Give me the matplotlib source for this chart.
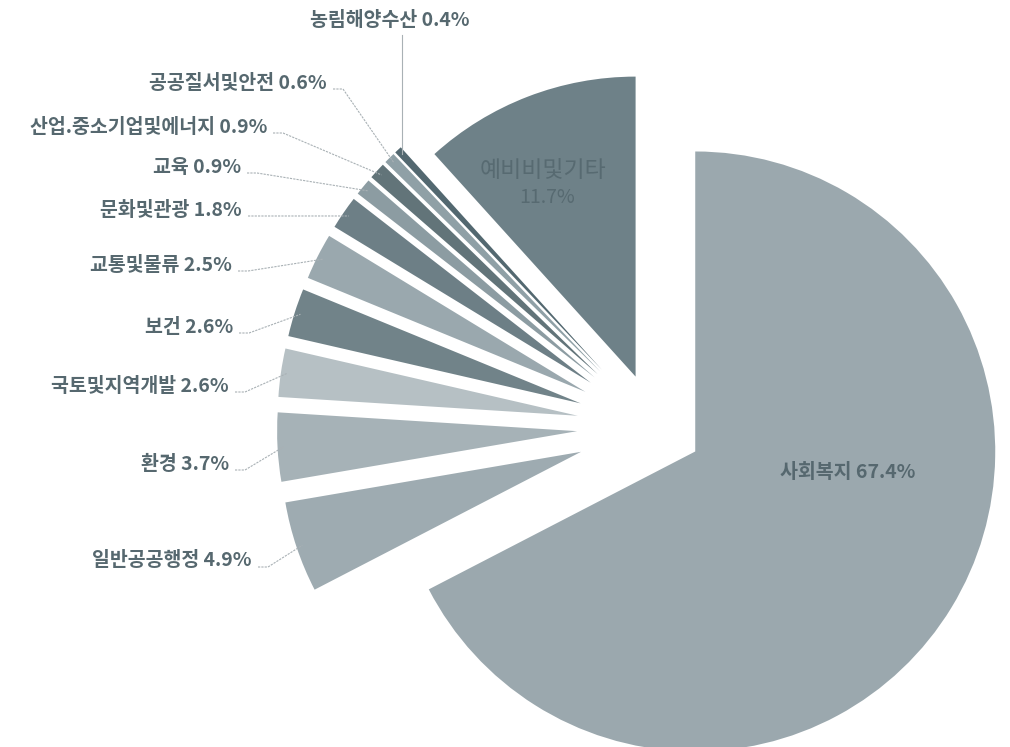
import numpy as np
import matplotlib
matplotlib.use("Agg")
import matplotlib.pyplot as plt

plt.rcParams['font.family'] = ['Noto Sans CJK KR', 'DejaVu Sans']

# === Data ===
categories = ["사회복지", "일반공공행정", "환경", "국토및지역개발", "보건", "교통및물류",
              "문화및관광", "교육", "산업.중소기업및에너지", "공공질서및안전", "농림해양수산",
              "예비비및기타"]
shares = [67.4, 4.9, 3.7, 2.6, 2.6, 2.5, 1.8, 0.9, 0.9, 0.6, 0.4, 11.7]

# === Style ===
colors = ["#9ba8ae", "#9eabb1", "#a6b2b7", "#b6c0c4", "#718389", "#9aa8ae",
          "#6d7f86", "#8c9ca2", "#627479", "#8fa0a6", "#536870", "#6e8188"]
explode = [0.157, 0.26, 0.26, 0.26, 0.26, 0.26, 0.26, 0.26, 0.26, 0.26, 0.26, 0.18]
text_color = "#56686f"
line_color = "#a9b1b5"

# pixel layout: pie centre and radius in the 1010x747 frame
W, H = 1010, 747
cx_px, cy_px, r_px = 655, 427, 300


def px2data(x, y):
    return (x - cx_px) / r_px, (cy_px - y) / r_px


# outside label anchors (right end x, centre y) in pixels
label_pos = {
    "일반공공행정": (252, 561),
    "환경": (229, 464),
    "국토및지역개발": (229, 386),
    "보건": (233, 327),
    "교통및물류": (232, 265),
    "문화및관광": (242, 210),
    "교육": (241, 167),
    "산업.중소기업및에너지": (267, 127),
    "공공질서및안전": (327, 83),
}

fig = plt.figure(figsize=(W / 100, H / 100), dpi=100)
ax = fig.add_axes([0, 0, 1, 1])

wedges, _ = ax.pie(shares, explode=explode, colors=colors, startangle=90,
                   counterclock=False, radius=1,
                   wedgeprops=dict(linewidth=0))

ax.set_xlim(-cx_px / r_px, (W - cx_px) / r_px)
ax.set_ylim(-(H - cy_px) / r_px, cy_px / r_px)
ax.set_aspect('equal')
ax.axis('off')

# outer point of each wedge along its bisector
tips = {}
for name, w in zip(categories, wedges):
    mid = np.deg2rad((w.theta1 + w.theta2) / 2)
    cx, cy = w.center
    tips[name] = (cx + 0.98 * np.cos(mid), cy + 0.98 * np.sin(mid))

# === Outside labels with leaders ===
for name, val in zip(categories, shares):
    if name not in label_pos:
        continue
    x, y = label_pos[name]
    tx, ty = px2data(x, y)
    ax.text(tx, ty, f"{name} {val}%", ha='right', va='center', fontsize=14,
            fontweight='bold', color=text_color)
    x0, y0 = px2data(x + 6, y + 6)
    x1, y1 = px2data(x + 16, y + 6)
    ex, ey = tips[name]
    ax.plot([x0, x1, ex], [y0, y1, ey], color=line_color, lw=0.8,
            linestyle=(0, (2, 1)))

# top label with vertical leader
name = "농림해양수산"
tx, ty = px2data(390, 20)
ax.text(tx, ty, f"{name} {shares[categories.index(name)]}%", ha='center',
        va='center', fontsize=14, fontweight='bold', color=text_color)
ex, ey = tips[name]
ax.plot([ex, ex], [px2data(0, 35)[1], ey], color=line_color, lw=0.8)

# labels inside the two large wedges
tx, ty = px2data(848, 472)
ax.text(tx, ty, f"사회복지 {shares[0]}%", ha='center', va='center', fontsize=14,
        fontweight='bold', color=text_color)
tx, ty = px2data(543, 170)
ax.text(tx, ty, "예비비및기타", ha='center', va='center', fontsize=16.5,
        color="#576a71")
tx, ty = px2data(547, 197)
ax.text(tx, ty, f"{shares[-1]}%", ha='center', va='center', fontsize=14,
        color="#576a71")

fig.savefig("out.png", dpi=100, facecolor='white')
